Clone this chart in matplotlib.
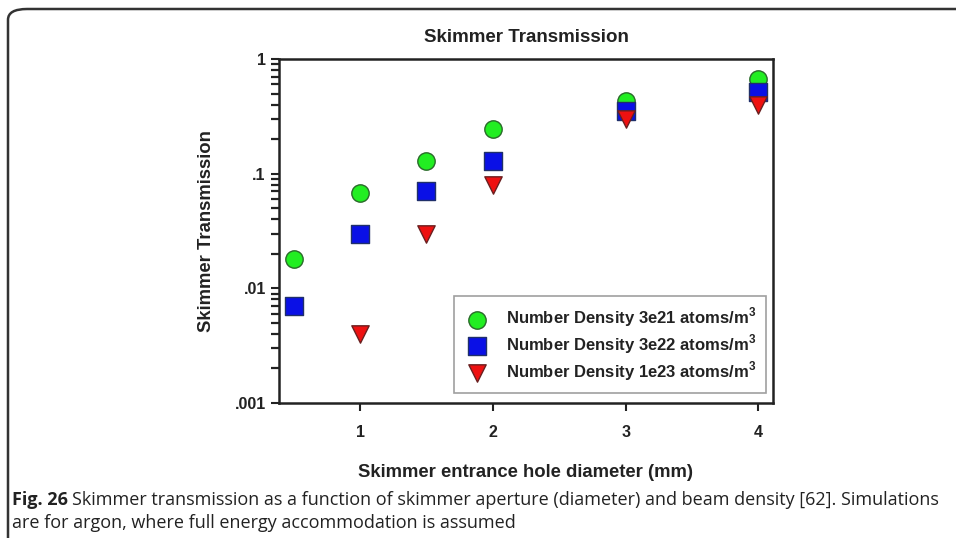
import matplotlib
matplotlib.use("Agg")
import matplotlib.pyplot as plt
from matplotlib.patches import FancyBboxPatch
from matplotlib.ticker import FixedLocator, FixedFormatter, NullFormatter

# ---- data ----
diameters = [0.5, 1, 1.5, 2, 3, 4]
dens_3e21 = [0.018, 0.068, 0.13, 0.245, 0.43, 0.67]
x_3e22 = [0.5, 1, 1.5, 2, 3, 4]
dens_3e22 = [0.007, 0.03, 0.07, 0.13, 0.35, 0.52]
x_1e23 = [1, 1.5, 2, 3, 4]
dens_1e23 = [0.004, 0.03, 0.08, 0.30, 0.40]
labels = [r"Number Density 3e21 atoms/m$^\mathbf{3}$",
          r"Number Density 3e22 atoms/m$^\mathbf{3}$",
          r"Number Density 1e23 atoms/m$^\mathbf{3}$"]
x_ticks = [1, 2, 3, 4]
y_ticks = [0.001, 0.01, 0.1, 1]
y_ticklabels = [".001", ".01", ".1", "1"]
y_minor = [m * d for d in (0.001, 0.01, 0.1) for m in range(2, 10)]

plt.rcParams['font.family'] = ['Liberation Sans', 'DejaVu Sans']
plt.rcParams['mathtext.fontset'] = 'custom'
plt.rcParams['mathtext.bf'] = 'Liberation Sans:bold'
plt.rcParams['mathtext.rm'] = 'Liberation Sans'

fig = plt.figure(figsize=(9.56, 5.38), dpi=100)

# outer frame
frame = FancyBboxPatch((8/956, -0.2), 1.2, 1 - 9/538 + 0.2,
                       boxstyle="round,pad=0,rounding_size=0.02",
                       transform=fig.transFigure, fill=False,
                       edgecolor="#333333", linewidth=1.8, clip_on=False)
fig.patches.append(frame)

ax = fig.add_axes([279/956, 1 - 403/538, (773 - 279)/956, (403 - 59)/538])
ax.set_yscale('log')
ax.set_xlim(0.39, 4.11)
ax.set_ylim(0.001, 1)

ms = 12.5
ax.scatter(diameters, dens_3e21, marker='o', s=ms**2, c='#22ee22',
           edgecolors='#2a6a2a', linewidths=1.0, zorder=3, label=labels[0])
ax.scatter(x_3e22, dens_3e22, marker='s', s=ms**2, c='#0a10e6',
           edgecolors='#20306a', linewidths=1.0, zorder=4, label=labels[1])
ax.scatter(x_1e23, dens_1e23, marker='v', s=ms**2, c='#ee1111',
           edgecolors='#6a2020', linewidths=1.0, zorder=5, label=labels[2])

for s in ax.spines.values():
    s.set_linewidth(1.8)
    s.set_color('#222222')

ax.set_xticks(x_ticks)
ax.set_xticklabels([str(t) for t in x_ticks])
ax.set_yticks(y_ticks)
ax.set_yticklabels(y_ticklabels)
ax.set_yticks(y_minor, minor=True)
ax.yaxis.set_minor_formatter(NullFormatter())
ax.tick_params(axis='both', which='major', direction='out', length=6, width=1.5,
               labelsize=11.5, colors='#222222')
ax.tick_params(axis='y', which='minor', direction='out', length=6, width=1.6,
               color='#222222', left=True)
ax.tick_params(axis='x', which='major', pad=10)
for lab in ax.get_xticklabels() + ax.get_yticklabels():
    lab.set_fontweight('bold')

ax.set_xlabel("Skimmer entrance hole diameter (mm)", fontsize=13.3, fontweight='bold',
              color='#222222', labelpad=17)
ax.set_ylabel("Skimmer Transmission", fontsize=13.3, fontweight='bold',
              color='#222222', labelpad=14)
ax.set_title("Skimmer Transmission", fontsize=13.5, fontweight='bold',
             color='#222222', pad=12)

leg = ax.legend(loc='lower right', bbox_to_anchor=(0.986, 0.03), frameon=True,
                fancybox=False, edgecolor='#888888',
                prop={'weight': 'bold', 'size': 12}, handletextpad=0.9,
                labelspacing=0.18, borderpad=0.6, borderaxespad=0.0,
                handlelength=1.6)
leg.get_frame().set_linewidth(1.2)
for t in leg.get_texts():
    t.set_color('#222222')

cap_fam = ['Liberation Sans Narrow', 'Open Sans', 'DejaVu Sans']
fig.text(12/956, 1 - 505/538, "Fig. 26", fontsize=13, fontweight='bold',
         family=cap_fam, color='#222222', va='baseline')
fig.text(72/956, 1 - 505/538,
         "Skimmer transmission as a function of skimmer aperture (diameter) and beam density [62]. Simulations",
         fontsize=13, family=cap_fam, color='#222222', va='baseline')
fig.text(12/956, 1 - 528/538,
         "are for argon, where full energy accommodation is assumed",
         fontsize=13, family=cap_fam, color='#222222', va='baseline')

fig.savefig("out.png", dpi=100)
